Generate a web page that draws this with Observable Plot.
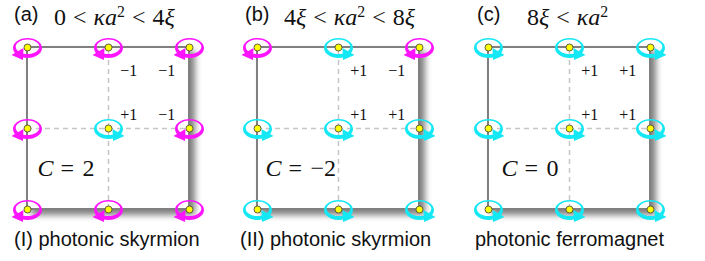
<!DOCTYPE html>
<html><head><meta charset="utf-8">
<script src="https://cdn.jsdelivr.net/npm/d3@7"></script>
<script src="https://cdn.jsdelivr.net/npm/@observablehq/plot@0.6"></script>
<style>
body{margin:0;background:#fff;}
#root{position:relative;width:705px;height:261px;overflow:hidden;font-family:"Liberation Sans",Arial,sans-serif;color:#111;}
.panel{position:absolute;top:0;height:261px;}
.tag{position:absolute;top:4px;font-size:20px;line-height:1;white-space:nowrap;}
.math{position:absolute;top:5px;font-family:"Liberation Serif",serif;font-size:24px;line-height:1;white-space:nowrap;word-spacing:1px;}
.math sup{font-size:0.66em;vertical-align:0.5em;line-height:0;}
.cap{position:absolute;top:228px;font-size:20px;white-space:nowrap;}
.panel svg{position:absolute;top:30px;left:0;}
</style></head><body><div id="root"></div>
<script>
// ---- data ----
const tags = ["(a)", "(b)", "(c)"];
const ranges = [
  '0 &lt; <i>κa</i><sup>2</sup> &lt; 4<i>ξ</i>',
  '4<i>ξ</i> &lt; <i>κa</i><sup>2</sup> &lt; 8<i>ξ</i>',
  '8<i>ξ</i> &lt; <i>κa</i><sup>2</sup>'
];
const captions = ["(I) photonic skyrmion", "(II) photonic skyrmion", "photonic ferromagnet"];
const chernNumbers = ["2", "−2", "0"];
const cols = [0, 1, 2];
const rows = [2, 1, 0]; // listed top to bottom
// winding of each site's polarization loop, rows top→bottom, cols left→right
// -1 = clockwise (magenta), +1 = counter-clockwise (cyan)
const windingA = [[-1, -1, -1], [-1, 1, -1], [-1, -1, -1]];
const windingB = [[-1, 1, -1], [1, 1, 1], [1, 1, 1]];
const windingC = [[1, 1, 1], [1, 1, 1], [1, 1, 1]];
// local charges in the upper-right plaquette
const chargeA = [["−1", "−1"], ["+1", "−1"]];
const chargeB = [["+1", "−1"], ["+1", "+1"]];
const chargeC = [["+1", "+1"], ["+1", "+1"]];
const chargeCols = [1.25, 1.72];
const chargeRows = [1.71, 1.17];

// ---- layout (px) ----
const layout = [
  {left: 0,   width: 230, ml: 27, tagX: 14, mathX: 54, capX: 14, cdx: 10},
  {left: 230, width: 230, ml: 27, tagX: 15, mathX: 54, capX: 10, cdx: 8},
  {left: 460, width: 245, ml: 28, tagX: 17, mathX: 67, capX: 15, cdx: 13}
];
const MAGENTA = "#ff14ff", CYAN = "#14e8f4";

// ---- custom loop symbols ----
function ellipse(ctx, cx, cy, rx, ry, cw) {
  const k = 0.5523, ox = rx * k, oy = ry * k;
  ctx.moveTo(cx + rx, cy);
  if (cw) {
    ctx.bezierCurveTo(cx + rx, cy + oy, cx + ox, cy + ry, cx, cy + ry);
    ctx.bezierCurveTo(cx - ox, cy + ry, cx - rx, cy + oy, cx - rx, cy);
    ctx.bezierCurveTo(cx - rx, cy - oy, cx - ox, cy - ry, cx, cy - ry);
    ctx.bezierCurveTo(cx + ox, cy - ry, cx + rx, cy - oy, cx + rx, cy);
  } else {
    ctx.bezierCurveTo(cx + rx, cy - oy, cx + ox, cy - ry, cx, cy - ry);
    ctx.bezierCurveTo(cx - ox, cy - ry, cx - rx, cy - oy, cx - rx, cy);
    ctx.bezierCurveTo(cx - rx, cy + oy, cx - ox, cy + ry, cx, cy + ry);
    ctx.bezierCurveTo(cx + ox, cy + ry, cx + rx, cy + oy, cx + rx, cy);
  }
  ctx.closePath();
}
function loopSymbol(sign) {
  return {
    draw(ctx) {
      ellipse(ctx, 0, 0.5, 14.5, 10, true);
      ellipse(ctx, 0, -0.8, 11.8, 7.3, false);
      if (sign > 0) {
        ctx.moveTo(4, 0.5); ctx.lineTo(16, 7.5); ctx.lineTo(4.5, 12.5); ctx.closePath();
      } else {
        ctx.moveTo(-4, 0.5); ctx.lineTo(-4.5, 12.5); ctx.lineTo(-16, 7.5); ctx.closePath();
      }
    }
  };
}
const cwSymbol = loopSymbol(-1), ccwSymbol = loopSymbol(1);

const windings = [windingA, windingB, windingC];
const charges = [chargeA, chargeB, chargeC];
const root = document.getElementById("root");

layout.forEach((L, p) => {
  const sites = [];
  windings[p].forEach((line, i) => line.forEach((w, j) => sites.push({col: cols[j], row: rows[i], w})));
  const q = [];
  charges[p].forEach((line, i) => line.forEach((t, j) => q.push({col: chargeCols[j], row: chargeRows[i], t})));

  const div = document.createElement("div");
  div.className = "panel";
  div.style.left = L.left + "px";
  div.style.width = L.width + "px";
  div.innerHTML = `<div class="tag" style="left:${L.tagX}px">${tags[p]}</div>` +
    `<div class="math" style="left:${L.mathX}px">${ranges[p]}</div>` +
    `<div class="cap" style="left:${L.capX}px">${captions[p]}</div>`;

  const serif = "Liberation Serif";
  const svg = Plot.plot({
    width: L.width, height: 200,
    marginLeft: L.ml, marginRight: L.width - L.ml - 162, marginTop: 17, marginBottom: 21,
    x: {domain: [0, 2], axis: null},
    y: {domain: [0, 2], axis: null},
    style: {background: "transparent", overflow: "visible"},
    marks: [
      Plot.rect([{}], {x1: cols[0], x2: cols[2], y1: rows[2], y2: rows[0], fill: "white", stroke: "#808080", strokeWidth: 2}),
      Plot.ruleX([cols[1]], {y1: rows[2], y2: rows[0], stroke: "#c6c6c6", strokeWidth: 1.5, strokeDasharray: "5,4"}),
      Plot.ruleY([rows[1]], {x1: cols[0], x2: cols[2], stroke: "#c6c6c6", strokeWidth: 1.5, strokeDasharray: "5,4"}),
      Plot.dot(sites.filter(d => d.w < 0), {x: "col", y: "row", symbol: cwSymbol, fill: MAGENTA}),
      Plot.dot(sites.filter(d => d.w > 0), {x: "col", y: "row", symbol: ccwSymbol, fill: CYAN}),
      Plot.dot(sites, {x: "col", y: "row", r: 3.5, fill: "#ffff00", stroke: "#3a3a3a", strokeWidth: 0.8}),
      Plot.text(q, {x: "col", y: "row", text: "t", fontFamily: serif, fontSize: 16, fill: "#111"}),
      Plot.text(["C"], {frameAnchor: "bottom-left", dx: L.cdx, dy: -34, textAnchor: "start", fontFamily: serif, fontStyle: "italic", fontSize: 24, fill: "#111"}),
      Plot.text(["="], {frameAnchor: "bottom-left", dx: L.cdx + 23, dy: -34, textAnchor: "start", fontFamily: serif, fontSize: 24, fill: "#111"}),
      Plot.text([chernNumbers[p]], {frameAnchor: "bottom-left", dx: L.cdx + 45, dy: -34, textAnchor: "start", fontFamily: serif, fontSize: 24, fill: "#111"})
    ]
  });
  const s = d3.select(svg);
  const defs = s.insert("defs", ":first-child");
  const f = defs.append("filter").attr("id", "shadow" + p).attr("x", "-20%").attr("y", "-20%").attr("width", "150%").attr("height", "150%");
  f.append("feDropShadow").attr("dx", 5).attr("dy", 5).attr("stdDeviation", 3).attr("flood-color", "#000").attr("flood-opacity", 0.5);
  s.select('g[aria-label="rect"]').attr("filter", `url(#shadow${p})`);
  div.appendChild(svg);
  root.appendChild(div);
});
</script>
</body></html>
